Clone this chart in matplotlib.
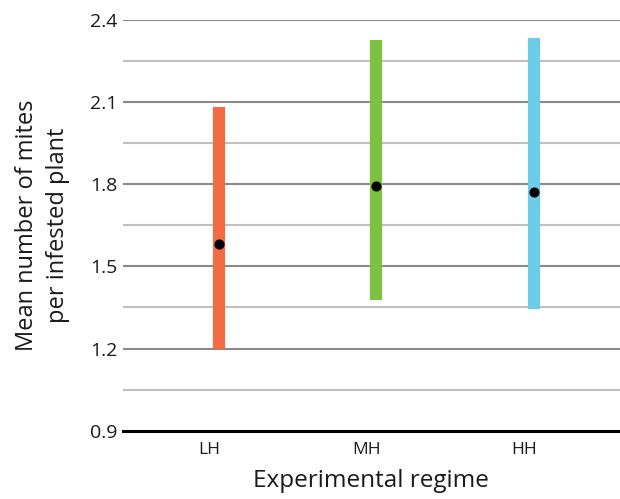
import matplotlib
matplotlib.use('Agg')
from matplotlib import pyplot as plt

regimes = ['LH', 'MH', 'HH']
means = [1.58, 1.795, 1.773]
lower = [1.20, 1.377, 1.344]
upper = [2.081, 2.327, 2.334]
colors = ['#F26B43', '#7DC142', '#6DCCE8']
yticks = [0.9, 1.2, 1.5, 1.8, 2.1, 2.4]

plt.rcParams['font.family'] = ['Open Sans', 'DejaVu Sans']

fig = plt.figure(figsize=(6.2, 4.99), dpi=100)
ax = fig.add_axes([0.198, 0.137, 0.802, 0.823])

# gridlines: labelled ones darker, in-between ones lighter
for k in range(1, 11):
    y = 0.9 + 0.15 * k
    if k % 2 == 0:
        ax.axhline(y, color='#8a8a8a', lw=1.5, zorder=1)
    else:
        ax.axhline(y, color='#c0c0c0', lw=1.5, zorder=1)

x = range(len(regimes))
for i in x:
    ax.vlines(i, lower[i], upper[i], color=colors[i], lw=8.8, zorder=2)
    ax.plot(i, means[i], 'o', color='black', ms=6.3, zorder=3)

ax.set_ylim(0.9, 2.4)
ax.set_xlim(-0.61, 2.546)
ax.set_yticks(yticks)
ax.set_yticklabels([f'{v:.1f}' for v in yticks])
ax.set_xticks([i - 0.06 for i in x])
ax.set_xticklabels(regimes)

for s in ['top', 'right', 'left']:
    ax.spines[s].set_visible(False)
ax.spines['bottom'].set_color('black')
ax.spines['bottom'].set_linewidth(2.2)
ax.tick_params(axis='y', length=0, labelsize=14, pad=4, colors='#1a1a1a')
ax.tick_params(axis='x', length=0, labelsize=12.5, pad=8, colors='#1a1a1a')

ax.set_xlabel('Experimental regime', fontsize=17.5, labelpad=8, color='#1a1a1a')
ax.set_ylabel('Mean number of mites\nper infested plant', fontsize=17, labelpad=14,
              color='#1a1a1a', linespacing=1.4)

plt.savefig('out.png', dpi=100)
